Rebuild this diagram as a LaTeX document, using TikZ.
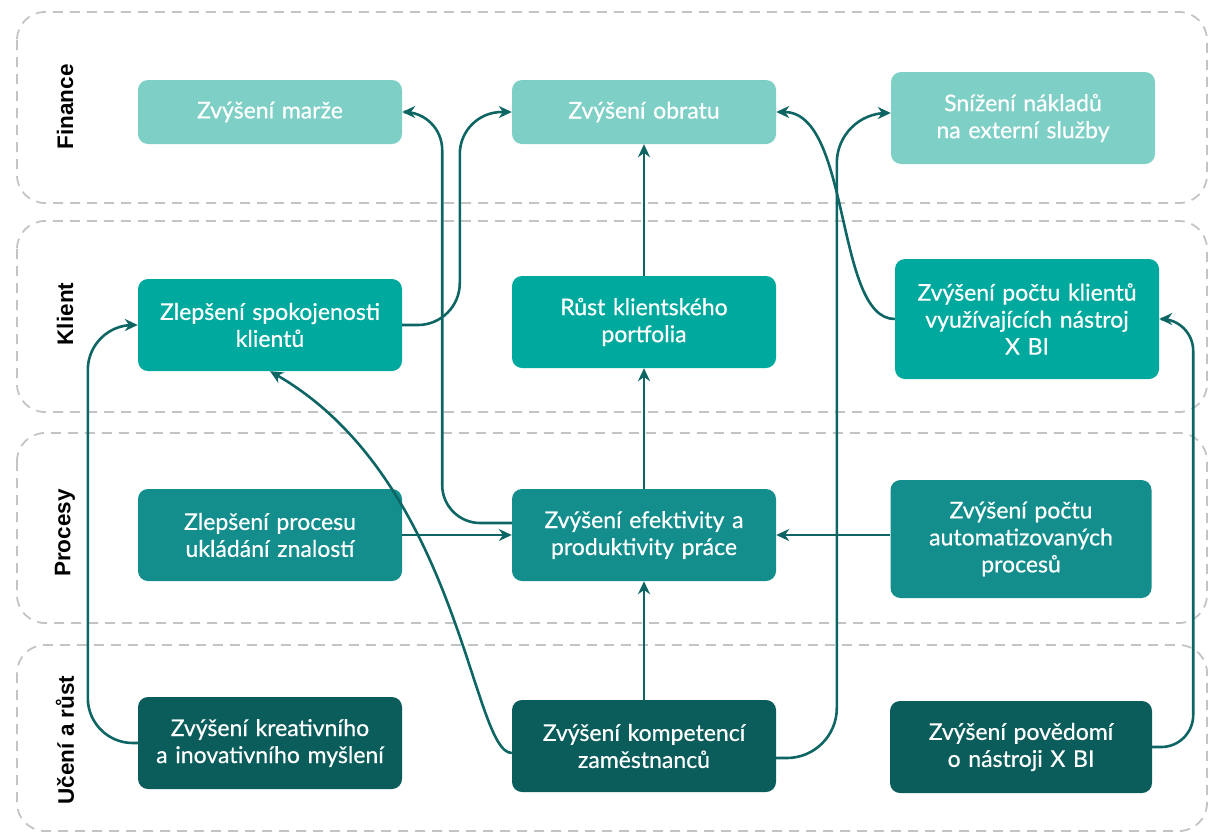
\documentclass[tikz,border=0pt]{standalone}
\usepackage{fontspec}
\setmainfont{Lato}
\newfontfamily\goalfont{Lato}[FakeBold=0.5]
\newfontfamily\lanefont{Liberation Sans}
\usetikzlibrary{arrows.meta}
\definecolor{finc}{HTML}{7ECFC6}
\definecolor{klic}{HTML}{00A99D}
\definecolor{proc}{HTML}{138E8D}
\definecolor{ucec}{HTML}{0B5D5B}
\definecolor{linkc}{HTML}{0E6664}
\definecolor{lanec}{HTML}{C4C4C4}
\tikzset{
	lane/.style={draw=lanec,line width=1.8pt,dash pattern=on 10pt off 7pt,rounded corners=28pt},
	lanelabel/.style={rotate=90,font=\lanefont\bfseries\fontsize{22.5}{24}\selectfont},
	goal/.style={rounded corners=10pt,minimum width=264pt,minimum height=92pt,text width=250pt,align=center,text=white,inner sep=0pt,font=\goalfont\fontsize{23}{27}\selectfont},
	link/.style={draw=linkc,line width=2.6pt,-{Stealth[length=13pt,width=12pt]}}
}
\begin{document}
\begin{tikzpicture}[x=1pt,y=-1pt]
	\useasboundingbox (0,0) rectangle (1209,833);
	\draw[lane] (17,12) rectangle (1207,203);
	\draw[lane] (17,221) rectangle (1207,412);
	\draw[lane] (17,433) rectangle (1207,623);
	\draw[lane] (17,645) rectangle (1207,831);
	\node[lanelabel] (finance) at (65,107) {Finance};
	\node[lanelabel] (klient) at (65,314) {Klient};
	\node[lanelabel] (procesy) at (65,533) {Procesy};
	\node[lanelabel] (uceni) at (65,740) {Učení a růst};

	\node[goal,fill=finc,minimum height=64pt] (marze) at (270,112) {Zvýšení marže};
	\node[goal,fill=finc,minimum height=64pt] (obrat) at (644,112) {Zvýšení obratu};
	\node[goal,fill=finc] (naklady) at (1023,118) {Snížení nákladů\\na externí služby};
	\node[goal,fill=klic] (spokoj) at (270,325) {Zlepšení spokojenosti\\klientů};
	\node[goal,fill=klic] (portfolio) at (644,322) {Růst klientského\\portfolia};
	\node[goal,fill=klic,minimum height=120pt] (klienti) at (1027,319) {Zvýšení počtu klientů\\využívajících nástroj\\X BI};
	\node[goal,fill=proc] (znalosti) at (270,535) {Zlepšení procesu\\ukládání znalostí};
	\node[goal,fill=proc] (efekt) at (644,535) {Zvýšení efektivity a\\produktivity práce};
	\node[goal,fill=proc,minimum width=261pt,minimum height=118pt] (automat) at (1021,539) {Zvýšení počtu\\automatizovaných\\procesů};
	\node[goal,fill=ucec] (kreat) at (270,743) {Zvýšení kreativního\\a inovativního myšlení};
	\node[goal,fill=ucec] (kompet) at (644,746) {Zvýšení kompetencí\\zaměstnanců};
	\node[goal,fill=ucec,minimum width=262pt] (povedomi) at (1021,747) {Zvýšení povědomí\\o nástroji X BI};

	\draw[link] (portfolio) -- (obrat);
	\draw[link] (efekt) -- (portfolio);
	\draw[link] (kompet) -- (efekt);
	\draw[link] (znalosti) -- (efekt);
	\draw[link] (automat.west |- efekt.east) -- (efekt.east);
	\draw[link,rounded corners=42pt] (spokoj.east) -| ([xshift=-52pt]obrat.west) -- (obrat.west);
	\draw[link,rounded corners=38pt] ([yshift=12pt]efekt.west) -| ([xshift=40pt]marze.east) -- (marze.east);
	\draw[link,rounded corners=45pt] (kreat.west) -| ([xshift=-50pt]spokoj.west) -- (spokoj.west);
	\draw[link,rounded corners=32pt] (povedomi.east) -| ([xshift=34pt]klienti.east) -- (klienti.east);
	\draw[link,rounded corners=50pt] ([yshift=-12pt]kompet.east) -| ([xshift=-54pt,yshift=5pt]naklady.west) -- ([yshift=5pt]naklady.west);
	\draw[link] (klienti.west) .. controls +(-60,0) and +(75,0) .. (obrat.east);
	\draw[link] ([yshift=-7pt]kompet.west) .. controls +(-40,0) and +(190,110) .. (spokoj.south);
\end{tikzpicture}
\end{document}
